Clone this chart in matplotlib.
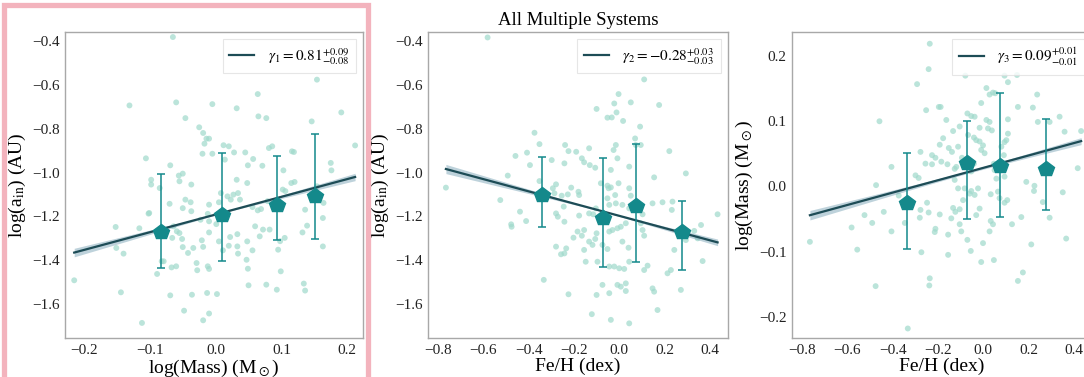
import numpy as np
import matplotlib
matplotlib.use("Agg")
import matplotlib.pyplot as plt
from matplotlib.patches import Rectangle

plt.rcParams['font.family'] = ['Liberation Serif', 'DejaVu Serif']
plt.rcParams['mathtext.fontset'] = 'stix'

# ---------------- data ----------------
# Panel 1: log(Mass) vs log(a_in)
p1_x = [-0.065, 0.154, -0.131, -0.060, -0.005, 0.064, 0.191, -0.046, 0.032, 0.065, 0.077, 0.146,
        -0.025, -0.019, -0.014, -0.010, -0.017, 0.012, 0.020, -0.106, -0.098, -0.098, -0.085, -0.069,
        -0.056, -0.050, -0.055, -0.037, -0.020, -0.005, 0.014, 0.028, 0.045, 0.057, 0.081, 0.086,
        0.071, 0.049, 0.103, 0.116, 0.119, 0.175, 0.176, 0.212, 0.032, 0.048, 0.034, 0.037, 0.027,
        0.008, 0.018, 0.023, 0.005, -0.010, -0.038, -0.046, -0.037, -0.050, -0.070, -0.101, 0.056,
        0.064, 0.069, 0.079, 0.098, 0.102, 0.106, 0.120, 0.115, 0.154, 0.164, 0.163, 0.136, 0.139,
        0.132, 0.163, 0.105, 0.098, 0.095, 0.099, 0.093, 0.077, 0.072, 0.082, 0.067, 0.060, 0.056,
        0.048, 0.049, 0.050, 0.047, 0.033, 0.033, 0.034, 0.022, 0.020, 0.011, 0.005, 0.001, -0.010,
        -0.010, -0.012, -0.023, -0.021, -0.029, -0.028, -0.012, -0.010, -0.019, -0.034, -0.042,
        -0.050, -0.051, -0.055, -0.064, -0.066, -0.059, -0.060, -0.067, -0.082, -0.079, -0.089,
        -0.069, -0.048, -0.036, -0.013, 0.002, -0.010, -0.019, -0.112, -0.144, -0.215, -0.140,
        -0.151, -0.152, -0.116, 0.134, 0.136, -0.102]
p1_y = [-0.380, -0.575, -0.693, -0.679, -0.687, -0.641, -0.725, -0.751, -0.706, -0.743, -0.751, -0.766,
        -0.793, -0.819, -0.845, -0.845, -0.868, -0.875, -0.880, -0.935, -1.033, -1.055, -1.071, -0.967,
        -1.014, -1.005, -1.040, -1.055, -0.914, -0.914, -0.941, -0.908, -0.908, -0.938, -0.888, -0.880,
        -0.969, -0.967, -0.990, -0.903, -0.906, -0.956, -0.990, -0.876, -1.033, -1.048, -1.094, -1.124,
        -1.101, -1.094, -1.109, -1.124, -1.136, -1.147, -1.136, -1.124, -1.177, -1.163, -1.143, -1.185,
        -1.158, -1.173, -1.167, -1.131, -1.136, -1.078, -1.085, -1.043, -1.048, -1.063, -1.139, -1.208,
        -1.170, -1.243, -1.274, -1.338, -1.299, -1.314, -1.353, -1.452, -1.536, -1.513, -1.261, -1.261,
        -1.292, -1.246, -1.356, -1.315, -1.440, -1.516, -1.399, -1.282, -1.338, -1.371, -1.295, -1.335,
        -1.356, -1.315, -1.236, -1.223, -1.274, -1.189, -1.216, -1.310, -1.414, -1.447, -1.429, -1.441,
        -1.340, -1.345, -1.368, -1.341, -1.304, -1.277, -1.246, -1.299, -1.269, -1.429, -1.434, -1.406,
        -1.406, -1.464, -1.562, -1.632, -1.559, -1.551, -1.556, -1.645, -1.676, -1.688, -1.548, -1.493,
        -1.371, -1.345, -1.249, -1.255, -1.508, -1.540, -1.188]

# Panel 2: Fe/H vs log(a_in)
p2_x = [-0.581, -0.765, -0.374, -0.352, -0.407, -0.458, -0.394, -0.298, -0.239, -0.224, -0.190, -0.242,
        -0.492, -0.525, -0.352, -0.293, -0.279, -0.212, -0.286, -0.254, -0.227, -0.245, -0.438, -0.477,
        -0.475, -0.411, -0.279, -0.271, -0.242, -0.202, -0.279, -0.257, -0.242, -0.234, -0.333, -0.224,
        0.110, -0.003, -0.022, -0.012, -0.033, -0.052, 0.017, -0.100, 0.051, 0.176, 0.092, 0.070,
        0.073, 0.095, -0.015, -0.025, -0.008, -0.133, -0.165, -0.155, -0.130, -0.106, -0.037, 0.044,
        0.221, 0.294, 0.154, -0.081, -0.052, -0.047, -0.037, -0.180, -0.177, -0.003, 0.044, 0.051,
        -0.018, -0.052, -0.044, -0.015, 0.147, 0.191, 0.235, 0.232, 0.434, -0.103, -0.133, -0.115,
        -0.177, 0.014, 0.044, 0.103, 0.095, 0.029, 0.007, -0.008, -0.030, 0.103, 0.110, -0.155,
        -0.165, -0.100, -0.106, -0.044, -0.133, -0.118, -0.074, -0.052, 0.014, 0.041, -0.155, -0.184,
        0.331, 0.361, 0.346, 0.243, 0.294, 0.044, -0.000, 0.022, -0.022, -0.148, -0.096, -0.044,
        0.110, 0.125, 0.213, 0.228, 0.368, 0.147, -0.008, 0.029, 0.007, -0.074, -0.100, -0.044,
        0.029, 0.154, 0.272, -0.121, -0.037, 0.044, 0.169]
p2_y = [-0.382, -1.069, -0.818, -0.870, -0.909, -0.924, -0.966, -0.943, -0.874, -0.902, -0.905, -0.958,
        -1.014, -1.126, -1.039, -1.072, -1.054, -1.069, -1.095, -1.106, -1.100, -1.156, -1.179, -1.237,
        -1.248, -1.222, -1.187, -1.202, -1.225, -1.298, -1.339, -1.374, -1.370, -1.347, -1.491, -1.557,
        -0.574, -0.641, -0.684, -0.725, -0.748, -0.749, -0.764, -0.709, -0.679, -0.691, -0.790, -0.844,
        -0.874, -0.874, -0.874, -0.897, -0.935, -0.889, -0.935, -0.953, -0.966, -0.978, -0.988, -0.973,
        -0.902, -1.004, -1.022, -1.049, -1.060, -1.072, -1.068, -1.088, -1.103, -1.049, -1.072, -1.106,
        -1.103, -1.118, -1.148, -1.141, -1.141, -1.136, -1.133, -1.171, -1.191, -1.164, -1.187, -1.191,
        -1.197, -1.148, -1.164, -1.191, -1.232, -1.232, -1.248, -1.255, -1.263, -1.263, -1.289, -1.263,
        -1.289, -1.278, -1.304, -1.270, -1.316, -1.331, -1.331, -1.350, -1.316, -1.344, -1.354, -1.270,
        -1.267, -1.240, -1.301, -1.354, -1.309, -1.408, -1.438, -1.441, -1.430, -1.408, -1.408, -1.430,
        -1.446, -1.426, -1.461, -1.446, -1.405, -1.530, -1.514, -1.507, -1.522, -1.514, -1.560, -1.552,
        -1.542, -1.545, -1.537, -1.648, -1.674, -1.690, -1.629]

# Panel 3: Fe/H vs log(Mass)
p3_x = [-0.236, -0.241, -0.292, -0.252, -0.196, -0.458, -0.277, -0.226, -0.211, -0.255, -0.226, -0.405,
        -0.299, -0.285, -0.473, -0.373, -0.248, -0.277, -0.241, -0.439, -0.524, -0.280, -0.490, -0.346,
        -0.581, -0.405, -0.211, -0.214, -0.765, -0.556, -0.273, -0.236, -0.238, -0.475, -0.333,
        -0.079, 0.094, 0.109, 0.149, 0.014, 0.028, 0.043, 0.053, 0.238, -0.009, 0.153, 0.219, -0.188,
        -0.070, -0.053, -0.038, -0.163, 0.014, 0.028, 0.021, 0.109, 0.337, 0.241, 0.293, -0.104,
        -0.133, -0.016, 0.038, 0.109, -0.067, -0.041, -0.031, 0.102, 0.094, 0.080, -0.177, -0.192,
        -0.016, -0.001, 0.359, 0.432, -0.152, -0.138, -0.111, -0.009, 0.006, -0.094, 0.091, -0.185,
        -0.158, 0.047, -0.119, -0.126, 0.417, -0.041, -0.053, 0.050, 0.058, 0.094, 0.190, 0.226,
        0.224, -0.126, -0.111, -0.082, -0.053, -0.038, -0.060, -0.023, 0.033, 0.065, 0.072, 0.351,
        0.106, 0.094, 0.263, -0.016, -0.031, -0.133, -0.123, -0.104, -0.089, -0.192, -0.141, -0.104,
        0.033, 0.043, 0.028, 0.168, 0.127, 0.293, -0.155, -0.097, -0.070, -0.055, -0.001, 0.212,
        0.366, -0.155, -0.009, 0.047, 0.175, 0.153]
p3_y = [0.219, 0.180, 0.157, 0.117, 0.122, 0.100, 0.053, 0.048, 0.044, 0.035, 0.034, 0.030,
        0.017, 0.013, 0.002, -0.014, -0.025, -0.036, -0.040, -0.039, -0.044, -0.048, -0.056, -0.056,
        -0.063, -0.069, -0.065, -0.070, -0.085, -0.097, -0.101, -0.141, -0.152, -0.153, -0.218,
        0.170, 0.170, 0.160, 0.171, 0.151, 0.141, 0.144, 0.143, 0.141, 0.128, 0.122, 0.121, 0.122,
        0.112, 0.108, 0.107, 0.102, 0.102, 0.099, 0.089, 0.103, 0.107, 0.099, 0.099, 0.092,
        0.085, 0.090, 0.086, 0.081, 0.079, 0.075, 0.071, 0.071, 0.068, 0.061, 0.074, 0.064,
        0.069, 0.063, 0.084, 0.085, 0.059, 0.053, 0.061, 0.056, 0.051, 0.044, 0.048, 0.038,
        0.034, 0.035, 0.030, 0.027, 0.028, 0.035, 0.023, 0.025, 0.012, 0.015, 0.007, 0.001,
        -0.007, 0.010, -0.003, -0.003, -0.007, -0.013, -0.011, -0.003, -0.012, -0.008, -0.018, -0.009,
        -0.021, -0.025, -0.024, -0.034, -0.044, -0.033, -0.039, -0.035, -0.021, -0.043, -0.049, -0.058,
        -0.053, -0.058, -0.069, -0.047, -0.058, -0.048, -0.074, -0.069, -0.082, -0.099, -0.087, -0.089,
        -0.080, -0.105, -0.116, -0.113, -0.132, -0.145]

# binned means with error bars
b1_x = [-0.083, 0.010, 0.093, 0.151]
b1_y = [-1.272, -1.193, -1.147, -1.106]
b1_hi = [-1.005, -0.911, -0.923, -0.825]
b1_lo = [-1.438, -1.406, -1.310, -1.302]

b2_x = [-0.341, -0.070, 0.073, 0.277]
b2_y = [-1.103, -1.209, -1.152, -1.270]
b2_hi = [-0.927, -0.932, -0.871, -1.130]
b2_lo = [-1.248, -1.434, -1.408, -1.444]

b3_x = [-0.337, -0.072, 0.074, 0.276]
b3_y = [-0.025, 0.036, 0.032, 0.027]
b3_hi = [0.052, 0.101, 0.143, 0.104]
b3_lo = [-0.096, -0.050, -0.047, -0.036]

# power-law fits: slope, intercept, slope uncertainty
fit_slope = [0.81, -0.28, 0.095]
fit_inter = [-1.192, -1.198, 0.0285]
fit_err = [0.085, 0.03, 0.01]
legend_labels = [r'$\gamma_1 = 0.81^{+0.09}_{-0.08}$',
                 r'$\gamma_2 = -0.28^{+0.03}_{-0.03}$',
                 r'$\gamma_3 = 0.09^{+0.01}_{-0.01}$']

xlabels = [r'log(Mass) (M$_\odot$)', 'Fe/H (dex)', 'Fe/H (dex)']
ylabels = [r'log(a$_{\mathrm{in}}$) (AU)', r'log(a$_{\mathrm{in}}$) (AU)', r'log(Mass) (M$_\odot$)']
xticks = [[-0.2, -0.1, 0.0, 0.1, 0.2], [-0.8, -0.6, -0.4, -0.2, 0.0, 0.2, 0.4], [-0.8, -0.6, -0.4, -0.2, 0.0, 0.2, 0.4]]
yticks = [[-1.6, -1.4, -1.2, -1.0, -0.8, -0.6, -0.4], [-1.6, -1.4, -1.2, -1.0, -0.8, -0.6, -0.4], [-0.2, -0.1, 0.0, 0.1, 0.2]]
xlims = [(-0.229, 0.224), (-0.844, 0.48), (-0.844, 0.48)]
ylims = [(-1.757, -0.357), (-1.757, -0.357), (-0.2326, 0.237)]
title = 'All Multiple Systems'

# ---------------- styling ----------------
W, H = 1084, 377
fig = plt.figure(figsize=(W / 100, H / 100), dpi=100)
fig.patch.set_facecolor('white')

axes_px = [(65, 32, 298, 306), (428, 32, 300, 306), (792, 32, 300, 306)]
scatter_col = '#9fd9cb'
bin_col = '#14898b'
line_col = '#1d4c56'
band_col = '#6f9db0'

data = [(p1_x, p1_y, b1_x, b1_y, b1_hi, b1_lo),
        (p2_x, p2_y, b2_x, b2_y, b2_hi, b2_lo),
        (p3_x, p3_y, b3_x, b3_y, b3_hi, b3_lo)]

for i, (l, t, w, h) in enumerate(axes_px):
    ax = fig.add_axes([l / W, (H - t - h) / H, w / W, h / H])
    px, py, bx, by, bhi, blo = data[i]
    px = np.array(px); py = np.array(py)
    ax.scatter(px, py, s=18, color=scatter_col, alpha=0.7, edgecolors='none', zorder=1)

    xx = np.linspace(px.min(), px.max(), 200)
    yy = fit_slope[i] * xx + fit_inter[i]
    xm = px.mean()
    half = np.sqrt(0.002 ** 2 + (fit_err[i] * (xx - xm)) ** 2)
    ax.fill_between(xx, yy - half, yy + half, color=band_col, alpha=0.45, lw=0, zorder=2)
    ax.plot(xx, yy, color=line_col, lw=1.6, zorder=3, label=legend_labels[i])

    by = np.array(by)
    yerr = np.vstack([by - np.array(blo), np.array(bhi) - by])
    ax.errorbar(bx, by, yerr=yerr, fmt='p', color=bin_col, ms=11.5, mec=bin_col,
                elinewidth=1.1, capsize=3, capthick=1.1, zorder=4)

    ax.set_xlim(*xlims[i]); ax.set_ylim(*ylims[i])
    ax.set_xticks(xticks[i]); ax.set_yticks(yticks[i])
    ax.tick_params(length=0, labelsize=11, pad=4, colors='#222222')
    for sp in ax.spines.values():
        sp.set_color('#a8a8a8'); sp.set_linewidth(1.0)
    ax.set_xlabel(xlabels[i], fontsize=14, labelpad=1)
    ax.set_ylabel(ylabels[i], fontsize=14, labelpad=3)
    leg = ax.legend(loc='upper right', fontsize=11, handlelength=1.6, handletextpad=0.9,
                    borderaxespad=0.45, frameon=True, fancybox=False, borderpad=0.45)
    leg.get_frame().set_edgecolor('#e0e0e0')
    leg.get_frame().set_linewidth(0.8)
    if i == 1:
        ax.set_title(title, fontsize=13.5, pad=5)

# highlight frame around the first panel
fig.add_artist(Rectangle((3.5 / W, -0.05), (368 - 3.5) / W, 1 - 5 / H + 0.05,
                         transform=fig.transFigure, fill=False, edgecolor='#f3b3bd', lw=3.8))

fig.savefig('out.png', dpi=100)
